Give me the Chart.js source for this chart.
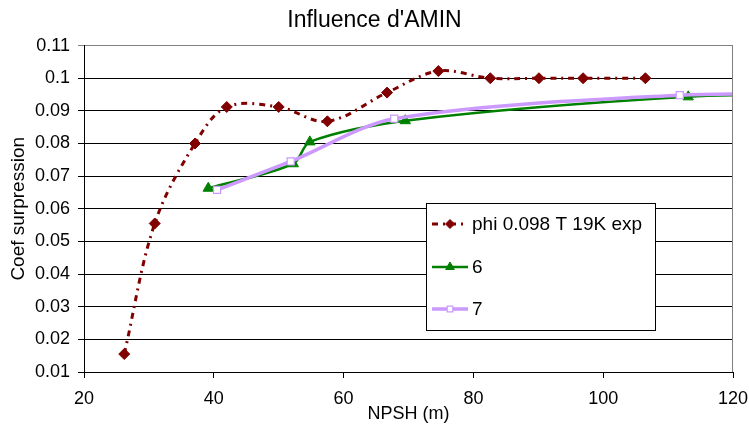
<!DOCTYPE html>
<html>
<head>
<meta charset="utf-8">
<script src="https://cdn.jsdelivr.net/npm/chart.js@4/dist/chart.umd.min.js"></script>
<style>
  html, body { margin: 0; padding: 0; background: #fff; }
  #wrap { width: 749px; height: 425px; }
</style>
</head>
<body>
<div id="wrap"><canvas id="chart" width="749" height="425"></canvas></div>
<script>
/* Influence d'AMIN */
(() => {
  "use strict";

  // experimental series (phi 0.098 T 19K exp)
  const npshExp = [26.2, 30.9, 37.1, 42.0, 50.0, 57.5, 66.7, 74.6, 82.6, 90.1, 96.9, 106.5];
  const coefExp = [0.0155, 0.0555, 0.0800, 0.0912, 0.0912, 0.0868, 0.0956, 0.1022, 0.1000, 0.1000, 0.1000, 0.1000];
  // computed series "6"
  const npsh6 = [39.15, 52.25, 54.8, 69.5, 113.1, 140];
  const coef6 = [0.0663, 0.0738, 0.0805, 0.0870, 0.0943, 0.0950];
  // computed series "7"
  const npsh7 = [40.5, 51.85, 67.8, 111.8, 140];
  const coef7 = [0.0658, 0.0745, 0.0876, 0.0948, 0.0951];

  const xTicks = [20, 40, 60, 80, 100, 120];
  const yTicks = [0.01, 0.02, 0.03, 0.04, 0.05, 0.06, 0.07, 0.08, 0.09, 0.1, 0.11];

  const FONT = '"Liberation Sans", Arial, sans-serif';
  const pts = (xs, ys) => xs.map((x, i) => ({ x, y: ys[i] }));

  const datasets = [
    { label: "phi 0.098 T 19K exp", data: pts(npshExp, coefExp), order: 3,
      borderColor: "#800000", backgroundColor: "#800000", borderWidth: 3,
      borderDash: [6, 5, 2, 5], tension: 0.35, pointStyle: "rectRot",
      pointRadius: 5.5, pointBorderWidth: 1 },
    { label: "6", data: pts(npsh6, coef6), order: 2,
      borderColor: "#008000", backgroundColor: "#008000", borderWidth: 2.5,
      tension: 0.3, pointStyle: "triangle", pointRadius: 6, pointBorderWidth: 1 },
    { label: "7", data: pts(npsh7, coef7), order: 1,
      borderColor: "#cc99ff", backgroundColor: "#ffffff", borderWidth: 3.5,
      tension: 0.3, pointStyle: "rect", pointRadius: 5, pointBorderWidth: 1.2 },
  ];

  // boxed legend inside the plot, plus the grey right border
  const boxLegend = {
    id: "boxLegend",
    afterDatasetsDraw(chart) {
      const { ctx, chartArea: a } = chart;
      ctx.save();
      ctx.strokeStyle = "#808080"; ctx.lineWidth = 1;
      ctx.beginPath(); ctx.moveTo(a.right - 0.5, a.top); ctx.lineTo(a.right - 0.5, a.bottom); ctx.stroke();

      const bx = 426.5, by = 203.5, bw = 229, bh = 127;
      ctx.fillStyle = "#fff"; ctx.fillRect(bx, by, bw, bh);
      ctx.strokeStyle = "#000"; ctx.strokeRect(bx, by, bw, bh);
      const rows = [224, 267, 309];
      ctx.font = "19px " + FONT;
      ctx.textBaseline = "middle";
      chart.data.datasets.forEach((ds, i) => {
        const y = rows[i];
        ctx.strokeStyle = ds.borderColor; ctx.lineWidth = ds.borderWidth;
        ctx.setLineDash(ds.borderDash || []);
        ctx.beginPath(); ctx.moveTo(432, y); ctx.lineTo(468, y); ctx.stroke();
        ctx.setLineDash([]);
        ctx.fillStyle = ds.backgroundColor; ctx.strokeStyle = ds.borderColor;
        ctx.lineWidth = ds.pointBorderWidth;
        Chart.helpers.drawPoint(ctx, {
          pointStyle: ds.pointStyle, radius: ds.pointRadius - 1, rotation: 0,
          borderWidth: ds.pointBorderWidth,
        }, 450, y);
        ctx.fillStyle = "#000";
        ctx.fillText(ds.label, 472, y + 1);
      });
      ctx.restore();
    },
  };

  new Chart(document.getElementById("chart"), {
    type: "line",
    data: { datasets },
    plugins: [boxLegend],
    options: {
      responsive: false, animation: false, devicePixelRatio: 1,
      layout: { padding: { left: 0, right: 0, top: 0, bottom: 0 } },
      plugins: {
        legend: { display: false },
        tooltip: { enabled: false },
        title: { display: true, text: "Influence d'AMIN", color: "#000",
          font: { family: FONT, size: 23, weight: "normal" },
          padding: { top: 7, bottom: 11 } },
      },
      scales: {
        x: {
          type: "linear", min: 20, max: 120,
          afterFit: (s) => { s.height = 53; s.paddingRight = 16; },
          afterBuildTicks: (s) => { s.ticks = xTicks.map((v) => ({ value: v })); },
          ticks: { color: "#000", font: { family: FONT, size: 18 }, padding: 10, maxRotation: 0 },
          grid: { drawOnChartArea: false, tickLength: 6, color: "#000" },
          border: { color: "#000" },
          title: { display: true, text: "NPSH (m)", color: "#000",
            font: { family: FONT, size: 18 }, padding: { top: 0, bottom: 0 } },
        },
        y: {
          type: "linear", min: 0.01, max: 0.11,
          afterFit: (s) => { s.width = 84; },
          afterBuildTicks: (s) => { s.ticks = yTicks.map((v) => ({ value: v })); },
          ticks: { color: "#000", font: { family: FONT, size: 18 }, padding: 8,
            callback: (v) => String(Number(v.toFixed(2))) },
          grid: { tickLength: 6, color: (c) => (c.tick && c.tick.value >= 0.105 ? "#808080" : "#000") },
          border: { color: "#000" },
          title: { display: true, text: "Coef surpression", color: "#000",
            font: { family: FONT, size: 19 }, padding: { top: 7, bottom: 0 } },
        },
      },
    },
  });
})();
</script>
</body>
</html>
